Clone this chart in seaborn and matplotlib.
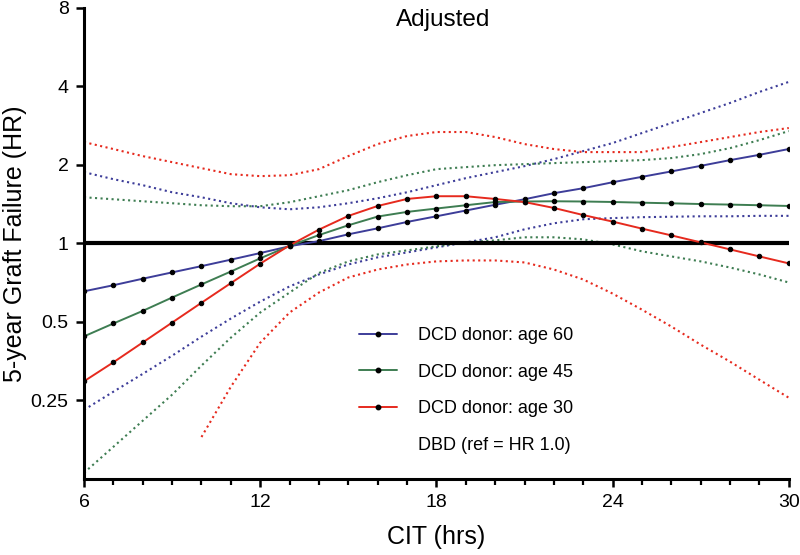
import matplotlib.pyplot as plt
import seaborn as sns
from matplotlib.lines import Line2D
from matplotlib.ticker import MultipleLocator, NullLocator

# CIT in hours
hours = list(range(6, 31))
hours_age30_lo = list(range(10, 31))

# Hazard ratio (vs DBD)
age60 = [0.655, 0.691, 0.732, 0.774, 0.818, 0.866, 0.918, 0.975, 1.020, 1.083,
         1.142, 1.208, 1.270, 1.336, 1.406, 1.476, 1.557, 1.627, 1.715, 1.799,
         1.887, 1.982, 2.085, 2.185, 2.300]
age45 = [0.440, 0.493, 0.551, 0.620, 0.696, 0.780, 0.876, 0.978, 1.076, 1.173,
         1.267, 1.320, 1.360, 1.400, 1.440, 1.447, 1.450, 1.447, 1.441, 1.432,
         1.424, 1.415, 1.408, 1.400, 1.391]
age30 = [0.296, 0.350, 0.417, 0.497, 0.592, 0.704, 0.836, 0.982, 1.129, 1.274,
         1.391, 1.480, 1.516, 1.516, 1.480, 1.440, 1.367, 1.284, 1.212, 1.139,
         1.073, 1.009, 0.948, 0.891, 0.838]

# 95% confidence bounds
age60_hi = [1.875, 1.762, 1.671, 1.570, 1.502, 1.425, 1.375, 1.351, 1.375, 1.425,
            1.489, 1.570, 1.671, 1.778, 1.875, 1.977, 2.103, 2.258, 2.424, 2.648,
            2.893, 3.161, 3.453, 3.806, 4.159]
age60_lo = [0.230, 0.270, 0.316, 0.371, 0.439, 0.515, 0.598, 0.684, 0.760, 0.830,
            0.884, 0.923, 0.965, 1.009, 1.055, 1.132, 1.194, 1.237, 1.250, 1.260,
            1.265, 1.270, 1.270, 1.275, 1.275]
age45_hi = [1.502, 1.476, 1.450, 1.425, 1.400, 1.388, 1.388, 1.438, 1.516, 1.599,
            1.716, 1.825, 1.925, 1.960, 1.994, 2.012, 2.031, 2.048, 2.067, 2.085,
            2.123, 2.199, 2.318, 2.488, 2.695]
age45_lo = [0.132, 0.166, 0.209, 0.263, 0.340, 0.435, 0.543, 0.648, 0.770, 0.853,
            0.907, 0.940, 0.974, 1.009, 1.027, 1.055, 1.055, 1.036, 0.991, 0.932,
            0.891, 0.853, 0.808, 0.760, 0.708]
age30_hi = [2.445, 2.299, 2.160, 2.048, 1.942, 1.842, 1.810, 1.825, 1.925, 2.160,
            2.402, 2.579, 2.672, 2.672, 2.556, 2.402, 2.299, 2.238, 2.238, 2.238,
            2.339, 2.445, 2.556, 2.672, 2.768]
age30_lo = [0.181, 0.282, 0.416, 0.543, 0.648, 0.740, 0.794, 0.830, 0.853, 0.860,
            0.860, 0.845, 0.794, 0.727, 0.642, 0.557, 0.480, 0.409, 0.352, 0.300,
            0.256]

y_ticks = [0.25, 0.5, 1, 2, 4, 8]
y_tick_labels = ["0.25", "0.5", "1", "2", "4", "8"]
x_ticks = [6, 12, 18, 24, 30]

blue = "#3d3d99"
green = "#3e7d52"
red = "#e62a1e"

sns.set_style("ticks")
plt.rcParams["font.family"] = ["Liberation Sans", "DejaVu Sans"]
plt.rcParams["text.color"] = "black"
plt.rcParams["axes.labelcolor"] = "black"
plt.rcParams["xtick.color"] = "black"
plt.rcParams["ytick.color"] = "black"

fig = plt.figure(figsize=(8, 5.55), dpi=100)
ax = fig.add_axes([0.105, 0.137, 0.881, 0.849])

# reference line: DBD
ax.axhline(1, color="black", lw=3, zorder=3)

# confidence bounds (dotted)
for xs, ys, c in [(hours, age60_hi, blue), (hours, age60_lo, blue),
                  (hours, age45_hi, green), (hours, age45_lo, green),
                  (hours, age30_hi, red), (hours_age30_lo, age30_lo, red)]:
    sns.lineplot(x=xs, y=ys, color=c, linestyle=":", lw=1.5,
                 errorbar=None, ax=ax, zorder=2)

# point estimates
for ys, c in [(age60, blue), (age45, green), (age30, red)]:
    sns.lineplot(x=hours, y=ys, color=c, lw=1.4, marker="o", markersize=3.2,
                 markerfacecolor="black", markeredgecolor="black",
                 errorbar=None, ax=ax, zorder=4)

ax.set_yscale("log", base=2)
ax.set_ylim(0.125, 8)
ax.set_yticks(y_ticks)
ax.set_yticklabels(y_tick_labels)
ax.yaxis.set_minor_locator(NullLocator())

ax.set_xlim(6, 30)
ax.set_xticks(x_ticks)
ax.xaxis.set_minor_locator(MultipleLocator(1))

sns.despine(ax=ax)
for s in ["left", "bottom"]:
    ax.spines[s].set_linewidth(2.2)
    ax.spines[s].set_color("black")
ax.tick_params(which="major", length=6, width=1.8, labelsize=14, pad=5)
ax.tick_params(axis="x", which="minor", length=4.5, width=1.6)

ax.set_xlabel("CIT (hrs)", fontsize=18, labelpad=10)
ax.set_ylabel("5-year Graft Failure (HR)", fontsize=18, labelpad=3)
ax.text(0.51, 0.962, "Adjusted", transform=ax.transAxes, ha="center",
        va="baseline", fontsize=17.5)

handles = [
    Line2D([], [], color=blue, lw=1.4, marker="o", ms=3.2, mfc="black", mec="black"),
    Line2D([], [], color=green, lw=1.4, marker="o", ms=3.2, mfc="black", mec="black"),
    Line2D([], [], color=red, lw=1.4, marker="o", ms=3.2, mfc="black", mec="black"),
    Line2D([], [], color="none"),
]
labels = ["DCD donor: age 60", "DCD donor: age 45", "DCD donor: age 30",
          "DBD (ref = HR 1.0)"]
ax.legend(handles, labels, loc="upper left", bbox_to_anchor=(0.39, 0.322),
          frameon=False, fontsize=13, handlelength=2.1, handletextpad=1.2,
          labelspacing=1.08, borderpad=0, borderaxespad=0)

fig.savefig("out.png", dpi=100)
